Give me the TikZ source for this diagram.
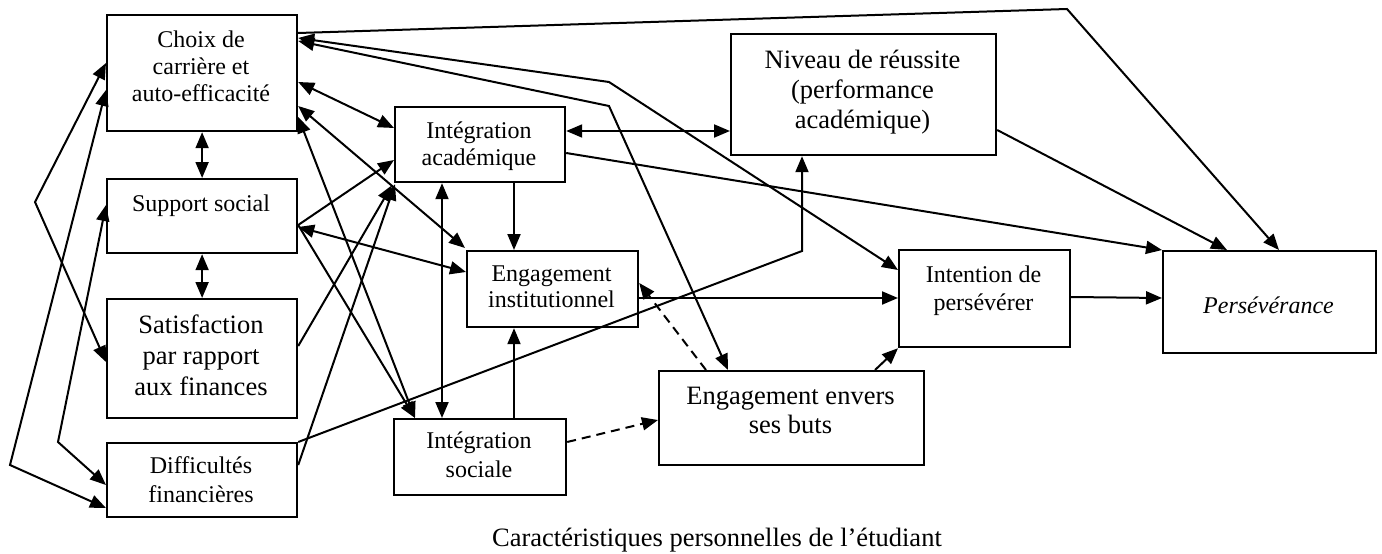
\documentclass[tikz,border=0pt]{standalone}
\usepackage{fontspec}
\setmainfont{Liberation Serif}
\usetikzlibrary{arrows.meta,calc}
\begin{document}
\begin{tikzpicture}[x=1pt,y=-1pt,
  box/.style={draw, line width=2.2pt, inner sep=0pt, anchor=north west},
  txt/.style={inner sep=0pt, align=center, anchor=north, font=\fontsize{24}{27}\selectfont},
  bigtxt/.style={inner sep=0pt, align=center, anchor=north, font=\fontsize{26.5}{30}\selectfont},
  con/.style={line width=2pt, -{Triangle[length=16pt,width=13pt]}},
  dcon/.style={line width=2pt, {Triangle[length=16pt,width=13pt]}-{Triangle[length=16pt,width=13pt]}},
  dsh/.style={line width=2pt, dash pattern=on 9pt off 6pt, -{Triangle[length=16pt,width=13pt]}}]
\fill[white] (0,0) rectangle (1382,554);
\useasboundingbox (0,0) rectangle (1382,554);

% boxes
\node[box, minimum width=190pt, minimum height=116pt] (C) at (106,14) {};
\node[box, minimum width=190pt, minimum height=74pt] (S) at (106,178) {};
\node[box, minimum width=190pt, minimum height=119pt] (Sa) at (106,298) {};
\node[box, minimum width=190pt, minimum height=74pt] (D) at (106,442) {};
\node[box, minimum width=170pt, minimum height=75pt] (IA) at (394,106) {};
\node[box, minimum width=171pt, minimum height=76pt] (EI) at (466,250) {};
\node[box, minimum width=172pt, minimum height=76pt] (IS) at (393,418) {};
\node[box, minimum width=265pt, minimum height=121pt] (N) at (730,33) {};
\node[box, minimum width=171pt, minimum height=97pt] (IP) at (898,249) {};
\node[box, minimum width=213pt, minimum height=102pt] (P) at (1162,250) {};
\node[box, minimum width=265pt, minimum height=94pt] (EB) at (658,370) {};

% texts
\node[txt] (Ct) at (201,30.7) {Choix de\\carrière et\\auto-efficacité};
\node[txt] (St) at (201,194.7) {Support social};
\node[bigtxt, font=\fontsize{26.5}{31}\selectfont] (Sat) at (201,315) {Satisfaction\\par rapport\\aux finances};
\node[txt, font=\fontsize{24}{29}\selectfont] (Dt) at (201,456.7) {Difficultés\\financières};
\node[txt] (IAt) at (479,121.7) {Intégration\\académique};
\node[txt, font=\fontsize{24}{26}\selectfont] (EIt) at (551.5,265.7) {Engagement\\institutionnel};
\node[txt, font=\fontsize{24}{29}\selectfont] (ISt) at (479,431.7) {Intégration\\sociale};
\node[bigtxt] (Nt) at (862.5,50) {Niveau de réussite\\(performance\\académique)};
\node[txt, font=\fontsize{24}{28}\selectfont] (IPt) at (983.5,265.7) {Intention de\\persévérer};
\node[inner sep=0pt, anchor=base, font=\fontsize{24}{27}\selectfont\itshape] (Pt) at (1268.5,313) {Persévérance};
\node[bigtxt, font=\fontsize{26.5}{29}\selectfont] (EBt) at (790.5,387) {Engagement envers\\ses buts};
\node[inner sep=0pt, anchor=base, font=\fontsize{26.5}{30}\selectfont] (cap) at (717,546) {Caractéristiques personnelles de l’étudiant};

% bend points
\coordinate (k1) at (1067,9);
\coordinate (k2) at (609,82);
\coordinate (k3) at (609,106);
\coordinate (k4) at (802,251);
\coordinate (k5) at (35,202);
\coordinate (k6) at (10,465);
\coordinate (k7) at (58,442);

% connectors
\draw[con] ($(C.north east)+(0,19)$) -- (k1) -- ($(P.north west)+(117,0)$);
\draw[dcon] ($(C.north east)+(0,24)$) -- (k2) -- ($(IP.north west)+(0,21)$);
\draw[dcon] ($(C.north east)+(0,27)$) -- (k3) -- ($(EB.north west)+(70,0)$);
\draw[dcon] ($(C.north east)+(0,68)$) -- ($(IA.north west)+(0,22)$);
\draw[dcon] ($(C.north east)+(0,92)$) -- ($(EI.north west)+(-1,-2)$);
\draw[dcon] ($(C.north east)+(0,103)$) -- ($(IS.north west)+(22,0)$);
\draw[dcon] (C.south) -- (S.north);
\draw[dcon] (S.south) -- (Sa.north);
\draw[con] ($(S.north east)+(0,47)$) -- ($(IA.north west)+(0,54)$);
\draw[dcon] ($(S.north east)+(0,49)$) -- ($(EI.north west)+(0,22)$);
\draw[con] ($(S.north east)+(0,47)$) -- ($(IS.north west)+(22,0)$);
\draw[con] ($(Sa.north east)+(0,48)$) -- ($(IA.south west)+(-2,2)$);
\draw[con] ($(D.north east)+(0,23)$) -- ($(IA.south west)+(1,1)$);
\draw[con] (D.north east) -- (k4) -- ($(N.south west)+(72,0)$);
\draw[dcon] ($(IA.north east)+(0,25)$) -- ($(N.north west)+(0,98)$);
\draw[con] ($(IA.south west)+(120,0)$) -- ($(EI.north west)+(48,0)$);
\draw[dcon] ($(IA.south west)+(48,0)$) -- ($(IS.north west)+(49,0)$);
\draw[con] ($(IA.north east)+(0,47)$) -- (P.north west);
\draw[con] ($(IS.north west)+(121,0)$) -- ($(EI.south west)+(48,0)$);
\draw[dsh] ($(IS.north east)+(0,24)$) -- ($(EB.north west)+(0,50)$);
\draw[dsh] ($(EB.north west)+(48,0)$) -- ($(EI.north east)+(0,33)$);
\draw[con] ($(EI.north east)+(0,48)$) -- ($(IP.north west)+(0,49)$);
\draw[con] ($(IP.north east)+(0,48)$) -- ($(P.north west)+(0,48)$);
\draw[con] ($(EB.north west)+(217,0)$) -- (IP.south west);
\draw[con] ($(N.north east)+(0,97)$) -- ($(P.north west)+(65,0)$);
\draw[dcon] ($(C.north west)+(0,49)$) -- (k5) -- ($(Sa.north west)+(0,64)$);
\draw[dcon] ($(C.north west)+(0,76)$) -- (k6) -- ($(D.north west)+(0,66)$);
\draw[dcon] ($(S.north west)+(0,27)$) -- (k7) -- ($(D.north west)+(0,43)$);
\end{tikzpicture}
\end{document}
